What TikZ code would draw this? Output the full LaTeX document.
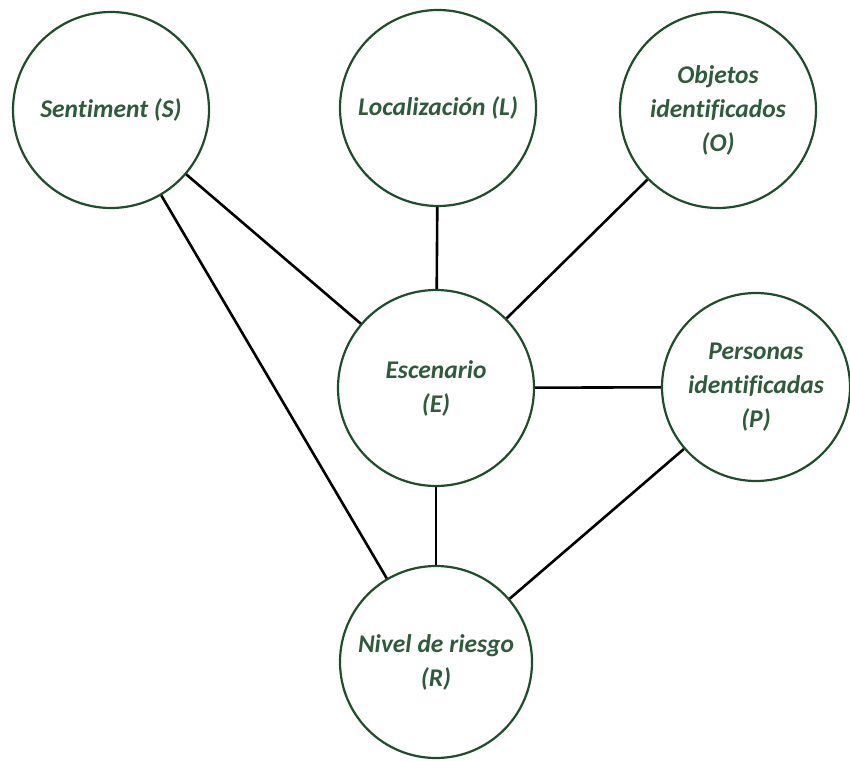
\documentclass[tikz,border=0pt]{standalone}
\usepackage{fontspec}
\setmainfont[Ligatures=NoCommon]{Carlito}
\definecolor{varline}{HTML}{1E4D2B}
\definecolor{vartext}{HTML}{2F5B3C}

\begin{document}
\begin{tikzpicture}[x=1pt, y=-1pt,
    var/.style={circle, draw=varline, line width=2.2pt, fill=white, inner sep=0pt,
      minimum size=196pt, align=center, text=vartext,
      font=\fontsize{25.5}{34}\selectfont\bfseries\itshape},
    link/.style={line width=2.6pt, black}]
    \useasboundingbox (0,0) rectangle (850,760);

    \node[var] (S) at (111,110) {Sentiment (S)};
    \node[var] (L) at (438,108) {Localización (L)};
    \node[var] (O) at (718,110) {Objetos\\identificados\\(O)};
    \node[var] (E) at (436,388) {Escenario\\(E)};
    \node[var, minimum size=188pt] (P) at (756,387) {Personas\\identificadas\\(P)};
    \node[var, minimum size=192pt] (R) at (436,662) {Nivel de riesgo\\(R)};

    \draw[link] (S) -- (E);
    \draw[link] (S) -- (R);
    \draw[link] (L) -- (E);
    \draw[link] (O) -- (E);
    \draw[link] (E) -- (P);
    \draw[link] (E) -- (R);
    \draw[link] (P) -- (R);
  \end{tikzpicture}
\end{document}
